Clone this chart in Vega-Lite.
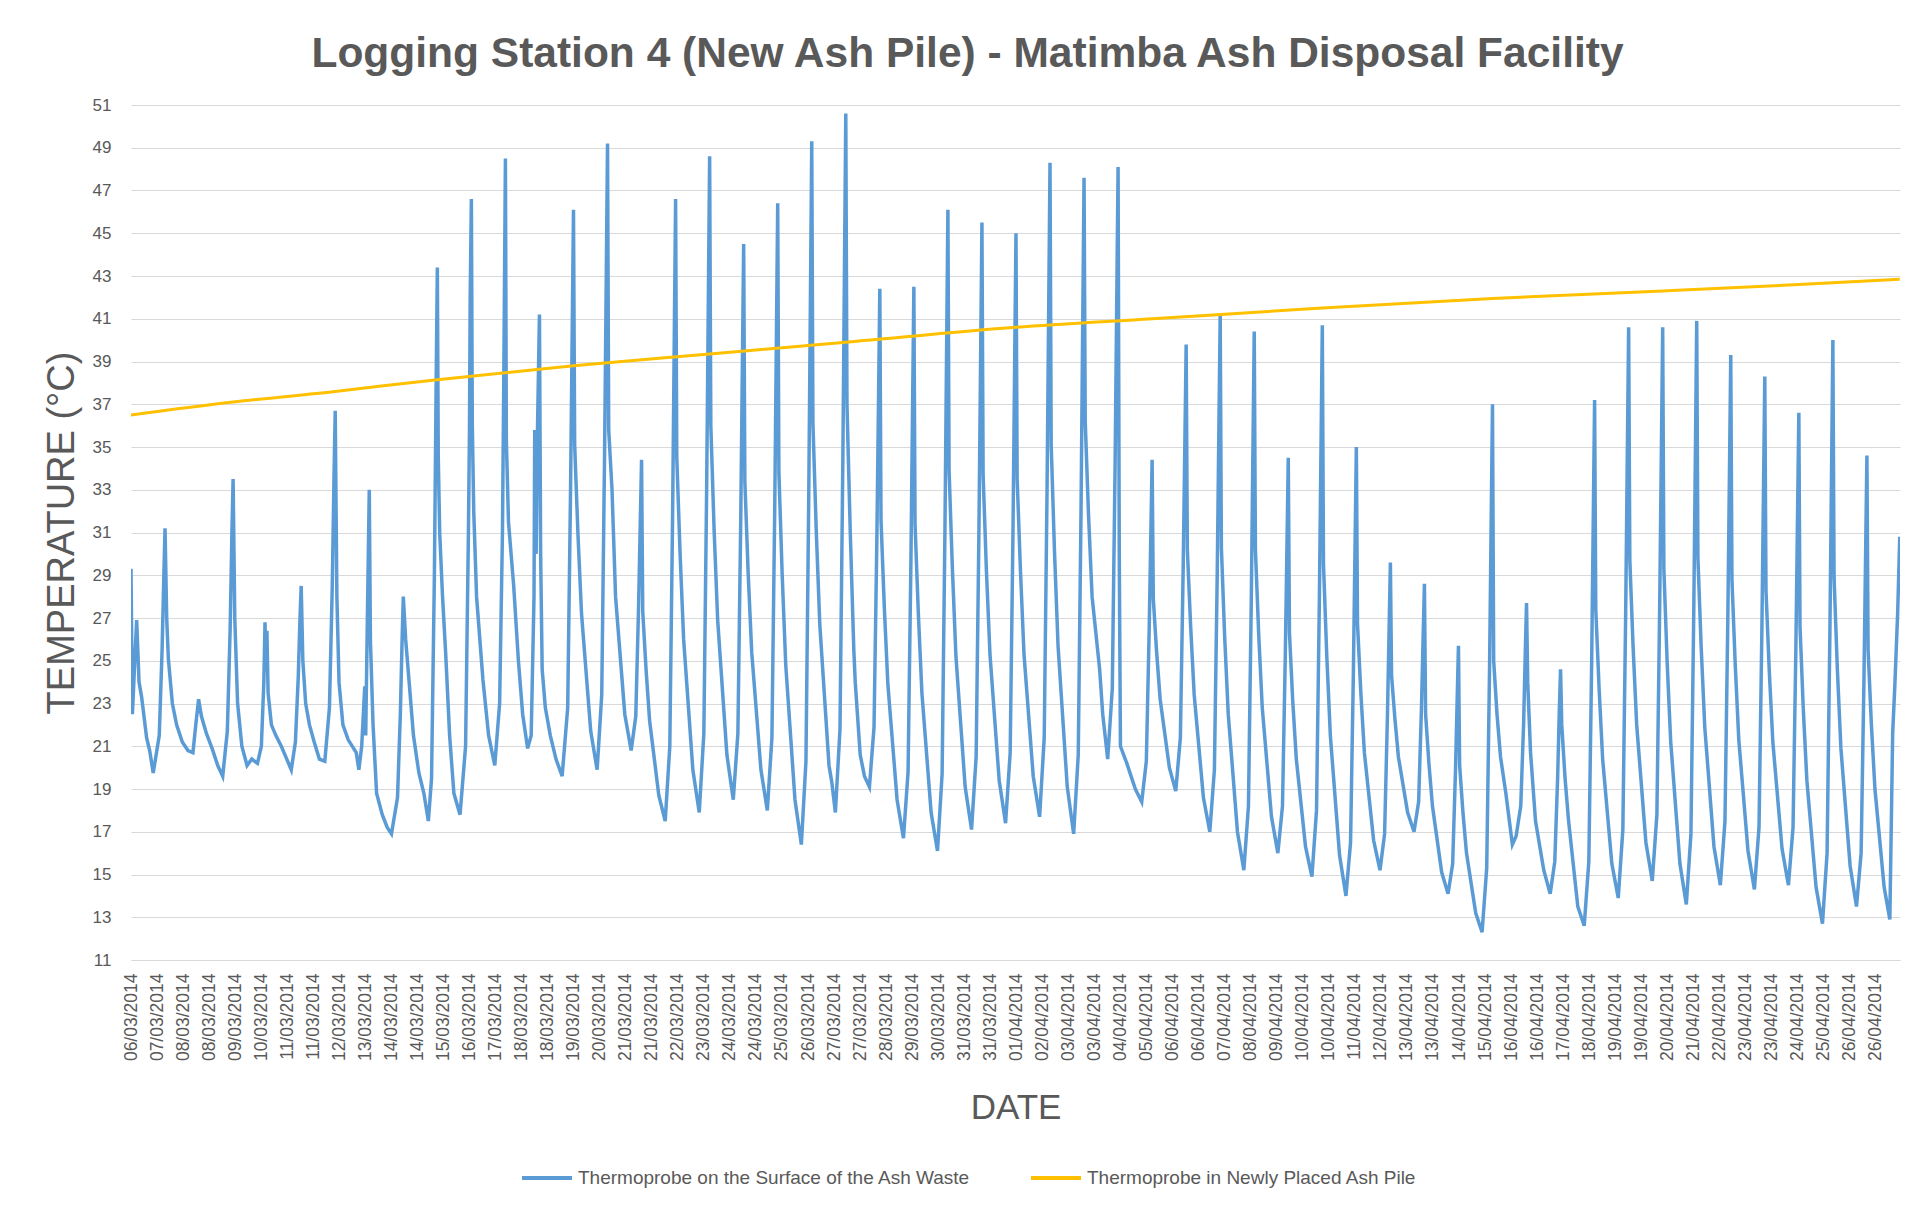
{
"$schema":"https://vega.github.io/schema/vega-lite/v6.json",
"width":1769,"height":855,
"autosize":{"type":"none"},
"padding":{"left":131,"top":105,"right":26,"bottom":245},
"background":"white",
"config":{"font":"Liberation Sans","view":{"stroke":null}},
"title":{"text":"Logging Station 4 (New Ash Pile) - Matimba Ash Disposal Facility","fontSize":42.5,"fontWeight":"bold","color":"#595959","anchor":"middle","frame":"group","dx":-48,"offset":40,"dy":53,"baseline":"alphabetic"},
"datasets":{
"surface":[
{"t":"2014-03-06T13:50","v":29.3},{"t":"2014-03-06T14:50","v":22.5},{"t":"2014-03-06T16:30","v":25.0},{"t":"2014-03-06T17:50","v":26.9},{"t":"2014-03-06T19:30","v":24.0},{"t":"2014-03-06T21:20","v":23.3},{"t":"2014-03-07T00:50","v":21.4},{"t":"2014-03-07T03:00","v":20.8},{"t":"2014-03-07T05:30","v":19.75},
{"t":"2014-03-07T09:45","v":21.5},{"t":"2014-03-07T11:45","v":25.5},{"t":"2014-03-07T13:00","v":29.0},{"t":"2014-03-07T13:50","v":31.2},{"t":"2014-03-07T15:00","v":27.0},{"t":"2014-03-07T16:10","v":25.1},{"t":"2014-03-07T19:00","v":23.0},{"t":"2014-03-07T22:00","v":22.0},{"t":"2014-03-08T02:00","v":21.2},{"t":"2014-03-08T06:00","v":20.8},
{"t":"2014-03-08T09:30","v":20.7},{"t":"2014-03-08T11:30","v":22.0},{"t":"2014-03-08T13:30","v":23.2},{"t":"2014-03-08T15:30","v":22.4},{"t":"2014-03-08T19:00","v":21.6},{"t":"2014-03-08T23:00","v":20.9},{"t":"2014-03-09T03:00","v":20.1},{"t":"2014-03-09T06:30","v":19.6},
{"t":"2014-03-09T09:45","v":21.7},{"t":"2014-03-09T11:45","v":26.5},{"t":"2014-03-09T13:00","v":31.0},{"t":"2014-03-09T13:50","v":33.5},{"t":"2014-03-09T15:00","v":27.0},{"t":"2014-03-09T17:00","v":23.0},{"t":"2014-03-09T20:00","v":21.0},{"t":"2014-03-09T23:40","v":20.1},{"t":"2014-03-10T03:00","v":20.4},{"t":"2014-03-10T07:00","v":20.2},
{"t":"2014-03-10T09:45","v":21.0},{"t":"2014-03-10T11:30","v":24.0},{"t":"2014-03-10T12:20","v":26.8},{"t":"2014-03-10T13:00","v":24.5},{"t":"2014-03-10T13:40","v":26.4},{"t":"2014-03-10T14:30","v":23.5},{"t":"2014-03-10T16:50","v":22.0},{"t":"2014-03-10T20:00","v":21.5},{"t":"2014-03-10T23:50","v":21.0},{"t":"2014-03-11T03:00","v":20.5},{"t":"2014-03-11T06:50","v":19.9},
{"t":"2014-03-11T09:45","v":21.2},{"t":"2014-03-11T11:45","v":24.2},{"t":"2014-03-11T13:00","v":27.0},{"t":"2014-03-11T13:50","v":28.5},{"t":"2014-03-11T15:00","v":25.0},{"t":"2014-03-11T17:00","v":23.0},{"t":"2014-03-11T19:40","v":22.0},{"t":"2014-03-11T23:00","v":21.2},{"t":"2014-03-12T02:40","v":20.4},{"t":"2014-03-12T06:30","v":20.3},
{"t":"2014-03-12T09:45","v":22.8},{"t":"2014-03-12T11:45","v":28.5},{"t":"2014-03-12T13:00","v":33.7},{"t":"2014-03-12T13:50","v":36.7},{"t":"2014-03-12T15:00","v":28.0},{"t":"2014-03-12T16:30","v":24.0},{"t":"2014-03-12T19:15","v":22.0},{"t":"2014-03-12T23:00","v":21.3},{"t":"2014-03-13T04:40","v":20.7},{"t":"2014-03-13T06:30","v":19.9},
{"t":"2014-03-13T08:30","v":21.0},{"t":"2014-03-13T10:40","v":23.8},{"t":"2014-03-13T11:20","v":21.5},{"t":"2014-03-13T12:30","v":27.0},{"t":"2014-03-13T13:50","v":33.0},{"t":"2014-03-13T14:40","v":25.9},{"t":"2014-03-13T16:30","v":22.0},{"t":"2014-03-13T19:00","v":18.8},{"t":"2014-03-13T23:00","v":17.8},{"t":"2014-03-14T02:30","v":17.2},{"t":"2014-03-14T05:30","v":16.9},
{"t":"2014-03-14T09:45","v":18.6},{"t":"2014-03-14T11:45","v":22.5},{"t":"2014-03-14T13:00","v":26.0},{"t":"2014-03-14T13:50","v":28.0},{"t":"2014-03-14T15:30","v":26.0},{"t":"2014-03-14T17:50","v":24.1},{"t":"2014-03-14T21:00","v":21.5},{"t":"2014-03-15T00:50","v":19.75},{"t":"2014-03-15T04:20","v":18.8},{"t":"2014-03-15T07:30","v":17.5},
{"t":"2014-03-15T09:45","v":19.5},{"t":"2014-03-15T11:45","v":29.0},{"t":"2014-03-15T13:00","v":38.0},{"t":"2014-03-15T13:50","v":43.4},{"t":"2014-03-15T14:30","v":34.5},{"t":"2014-03-15T15:30","v":31.0},{"t":"2014-03-15T17:30","v":28.0},{"t":"2014-03-15T19:40","v":25.4},{"t":"2014-03-15T22:30","v":21.5},{"t":"2014-03-16T01:30","v":18.8},{"t":"2014-03-16T05:50","v":17.8},
{"t":"2014-03-16T09:45","v":21.0},{"t":"2014-03-16T11:45","v":31.0},{"t":"2014-03-16T12:30","v":35.8},{"t":"2014-03-16T13:00","v":42.0},{"t":"2014-03-16T13:50","v":46.6},{"t":"2014-03-16T14:30","v":36.0},{"t":"2014-03-16T15:30","v":32.0},{"t":"2014-03-16T17:30","v":28.0},{"t":"2014-03-16T22:00","v":24.1},{"t":"2014-03-17T02:00","v":21.5},{"t":"2014-03-17T06:20","v":20.1},
{"t":"2014-03-17T09:45","v":23.0},{"t":"2014-03-17T11:45","v":31.0},{"t":"2014-03-17T12:40","v":38.0},{"t":"2014-03-17T13:50","v":48.5},{"t":"2014-03-17T14:30","v":35.3},{"t":"2014-03-17T16:00","v":31.5},{"t":"2014-03-17T19:40","v":28.5},{"t":"2014-03-17T23:00","v":25.0},{"t":"2014-03-18T02:00","v":22.5},{"t":"2014-03-18T05:30","v":20.9},
{"t":"2014-03-18T08:00","v":21.5},{"t":"2014-03-18T10:00","v":28.0},{"t":"2014-03-18T10:30","v":35.8},{"t":"2014-03-18T11:30","v":30.0},{"t":"2014-03-18T12:30","v":36.0},{"t":"2014-03-18T13:50","v":41.2},{"t":"2014-03-18T14:40","v":30.0},{"t":"2014-03-18T15:45","v":24.6},{"t":"2014-03-18T18:00","v":22.8},{"t":"2014-03-18T21:30","v":21.5},{"t":"2014-03-19T01:30","v":20.4},{"t":"2014-03-19T05:50","v":19.6},
{"t":"2014-03-19T09:45","v":22.8},{"t":"2014-03-19T11:45","v":32.9},{"t":"2014-03-19T13:00","v":40.8},{"t":"2014-03-19T13:50","v":46.1},{"t":"2014-03-19T14:40","v":35.1},{"t":"2014-03-19T17:00","v":30.9},{"t":"2014-03-19T19:30","v":27.2},{"t":"2014-03-20T02:00","v":21.7},{"t":"2014-03-20T06:30","v":19.9},
{"t":"2014-03-20T09:45","v":23.4},{"t":"2014-03-20T11:45","v":34.6},{"t":"2014-03-20T13:00","v":43.3},{"t":"2014-03-20T13:50","v":49.2},{"t":"2014-03-20T14:40","v":35.8},{"t":"2014-03-20T17:00","v":33.0},{"t":"2014-03-20T19:30","v":28.0},{"t":"2014-03-21T02:00","v":22.5},{"t":"2014-03-21T06:30","v":20.8},
{"t":"2014-03-21T09:45","v":22.4},{"t":"2014-03-21T11:45","v":27.6},{"t":"2014-03-21T13:00","v":31.7},{"t":"2014-03-21T13:50","v":34.4},{"t":"2014-03-21T14:40","v":27.3},{"t":"2014-03-21T17:00","v":24.6},{"t":"2014-03-21T19:30","v":22.2},{"t":"2014-03-22T02:00","v":18.7},{"t":"2014-03-22T06:30","v":17.5},
{"t":"2014-03-22T09:45","v":21.0},{"t":"2014-03-22T11:45","v":32.0},{"t":"2014-03-22T13:00","v":40.8},{"t":"2014-03-22T13:50","v":46.6},{"t":"2014-03-22T14:40","v":34.5},{"t":"2014-03-22T17:00","v":30.0},{"t":"2014-03-22T19:30","v":26.0},{"t":"2014-03-23T02:00","v":19.9},{"t":"2014-03-23T06:30","v":17.9},
{"t":"2014-03-23T09:45","v":21.6},{"t":"2014-03-23T11:45","v":33.2},{"t":"2014-03-23T13:00","v":42.5},{"t":"2014-03-23T13:50","v":48.6},{"t":"2014-03-23T14:40","v":36.0},{"t":"2014-03-23T17:00","v":31.1},{"t":"2014-03-23T19:30","v":26.9},{"t":"2014-03-24T02:00","v":20.6},{"t":"2014-03-24T06:30","v":18.5},
{"t":"2014-03-24T09:45","v":21.6},{"t":"2014-03-24T11:45","v":31.5},{"t":"2014-03-24T13:00","v":39.3},{"t":"2014-03-24T13:50","v":44.5},{"t":"2014-03-24T14:40","v":33.4},{"t":"2014-03-24T17:00","v":29.1},{"t":"2014-03-24T19:30","v":25.4},{"t":"2014-03-25T02:00","v":19.9},{"t":"2014-03-25T06:30","v":18.0},
{"t":"2014-03-25T09:45","v":21.4},{"t":"2014-03-25T11:45","v":32.2},{"t":"2014-03-25T13:00","v":40.7},{"t":"2014-03-25T13:50","v":46.4},{"t":"2014-03-25T14:40","v":33.8},{"t":"2014-03-25T17:00","v":29.0},{"t":"2014-03-25T19:30","v":24.8},{"t":"2014-03-26T02:00","v":18.5},{"t":"2014-03-26T06:30","v":16.4},
{"t":"2014-03-26T09:45","v":20.3},{"t":"2014-03-26T11:45","v":32.9},{"t":"2014-03-26T13:00","v":42.7},{"t":"2014-03-26T13:50","v":49.3},{"t":"2014-03-26T14:40","v":36.1},{"t":"2014-03-26T17:00","v":31.1},{"t":"2014-03-26T19:30","v":26.7},{"t":"2014-03-27T02:00","v":20.1},{"t":"2014-03-27T04:00","v":19.3},{"t":"2014-03-27T06:30","v":17.9},
{"t":"2014-03-27T09:45","v":21.8},{"t":"2014-03-27T11:45","v":34.3},{"t":"2014-03-27T13:00","v":44.1},{"t":"2014-03-27T13:50","v":50.6},{"t":"2014-03-27T14:40","v":37.0},{"t":"2014-03-27T17:00","v":31.0},{"t":"2014-03-27T19:30","v":25.5},{"t":"2014-03-27T20:30","v":24.0},{"t":"2014-03-28T00:00","v":20.6},{"t":"2014-03-28T03:00","v":19.6},{"t":"2014-03-28T06:30","v":19.1},
{"t":"2014-03-28T09:45","v":21.9},{"t":"2014-03-28T11:45","v":30.7},{"t":"2014-03-28T13:00","v":37.7},{"t":"2014-03-28T13:50","v":42.4},{"t":"2014-03-28T14:40","v":31.6},{"t":"2014-03-28T17:00","v":27.5},{"t":"2014-03-28T19:30","v":23.9},{"t":"2014-03-29T02:00","v":18.5},{"t":"2014-03-29T06:30","v":16.7},
{"t":"2014-03-29T09:45","v":19.8},{"t":"2014-03-29T11:45","v":29.6},{"t":"2014-03-29T13:00","v":37.3},{"t":"2014-03-29T13:50","v":42.5},{"t":"2014-03-29T14:40","v":31.4},{"t":"2014-03-29T17:00","v":27.2},{"t":"2014-03-29T19:30","v":23.5},{"t":"2014-03-30T02:00","v":17.9},{"t":"2014-03-30T06:30","v":16.1},
{"t":"2014-03-30T09:45","v":19.7},{"t":"2014-03-30T11:45","v":31.1},{"t":"2014-03-30T13:00","v":40.1},{"t":"2014-03-30T13:50","v":46.1},{"t":"2014-03-30T14:40","v":33.9},{"t":"2014-03-30T17:00","v":29.3},{"t":"2014-03-30T19:30","v":25.2},{"t":"2014-03-31T02:00","v":19.1},{"t":"2014-03-31T06:30","v":17.1},
{"t":"2014-03-31T09:45","v":20.5},{"t":"2014-03-31T11:45","v":31.3},{"t":"2014-03-31T13:00","v":39.8},{"t":"2014-03-31T13:50","v":45.5},{"t":"2014-03-31T14:40","v":33.7},{"t":"2014-03-31T17:00","v":29.2},{"t":"2014-03-31T19:30","v":25.3},{"t":"2014-04-01T02:00","v":19.4},{"t":"2014-04-01T06:30","v":17.4},
{"t":"2014-04-01T09:45","v":20.7},{"t":"2014-04-01T11:45","v":31.2},{"t":"2014-04-01T13:00","v":39.5},{"t":"2014-04-01T13:50","v":45.0},{"t":"2014-04-01T14:40","v":33.5},{"t":"2014-04-01T17:00","v":29.2},{"t":"2014-04-01T19:30","v":25.3},{"t":"2014-04-02T02:00","v":19.6},{"t":"2014-04-02T06:30","v":17.7},
{"t":"2014-04-02T09:45","v":21.4},{"t":"2014-04-02T11:45","v":33.0},{"t":"2014-04-02T13:00","v":42.2},{"t":"2014-04-02T13:50","v":48.3},{"t":"2014-04-02T14:40","v":35.1},{"t":"2014-04-02T17:00","v":30.1},{"t":"2014-04-02T19:30","v":25.7},{"t":"2014-04-03T02:00","v":19.1},{"t":"2014-04-03T06:30","v":16.9},
{"t":"2014-04-03T09:45","v":20.6},{"t":"2014-04-03T11:45","v":32.3},{"t":"2014-04-03T13:00","v":41.5},{"t":"2014-04-03T13:50","v":47.6},{"t":"2014-04-03T14:40","v":36.2},{"t":"2014-04-03T17:00","v":31.8},{"t":"2014-04-03T19:30","v":28.0},{"t":"2014-04-04T00:50","v":24.6},{"t":"2014-04-04T03:00","v":22.5},{"t":"2014-04-04T06:30","v":20.4},
{"t":"2014-04-04T09:45","v":23.7},{"t":"2014-04-04T11:45","v":34.3},{"t":"2014-04-04T13:00","v":42.6},{"t":"2014-04-04T13:50","v":48.1},{"t":"2014-04-04T14:40","v":30.0},{"t":"2014-04-04T15:30","v":21.0},{"t":"2014-04-04T20:00","v":20.2},{"t":"2014-04-05T02:00","v":19.0},{"t":"2014-04-05T06:30","v":18.4},
{"t":"2014-04-05T09:45","v":20.3},{"t":"2014-04-05T11:45","v":26.4},{"t":"2014-04-05T13:00","v":31.2},{"t":"2014-04-05T13:50","v":34.4},{"t":"2014-04-05T14:40","v":27.9},{"t":"2014-04-05T17:00","v":25.4},{"t":"2014-04-05T19:30","v":23.2},{"t":"2014-04-06T02:00","v":20.0},{"t":"2014-04-06T06:30","v":18.9},
{"t":"2014-04-06T09:45","v":21.4},{"t":"2014-04-06T11:45","v":29.4},{"t":"2014-04-06T13:00","v":35.6},{"t":"2014-04-06T13:50","v":39.8},{"t":"2014-04-06T14:40","v":30.2},{"t":"2014-04-06T17:00","v":26.6},{"t":"2014-04-06T19:30","v":23.4},{"t":"2014-04-07T02:00","v":18.6},{"t":"2014-04-07T06:30","v":17.0},
{"t":"2014-04-07T09:45","v":19.9},{"t":"2014-04-07T11:45","v":29.1},{"t":"2014-04-07T13:00","v":36.4},{"t":"2014-04-07T13:50","v":41.2},{"t":"2014-04-07T14:40","v":30.3},{"t":"2014-04-07T17:00","v":26.1},{"t":"2014-04-07T19:30","v":22.5},{"t":"2014-04-08T02:00","v":17.0},{"t":"2014-04-08T06:30","v":15.2},
{"t":"2014-04-08T09:45","v":18.2},{"t":"2014-04-08T11:45","v":27.8},{"t":"2014-04-08T13:00","v":35.4},{"t":"2014-04-08T13:50","v":40.4},{"t":"2014-04-08T14:40","v":30.2},{"t":"2014-04-08T17:00","v":26.2},{"t":"2014-04-08T19:30","v":22.8},{"t":"2014-04-09T02:00","v":17.7},{"t":"2014-04-09T06:30","v":16.0},
{"t":"2014-04-09T09:45","v":18.2},{"t":"2014-04-09T11:45","v":25.3},{"t":"2014-04-09T13:00","v":30.8},{"t":"2014-04-09T13:50","v":34.5},{"t":"2014-04-09T14:40","v":26.3},{"t":"2014-04-09T17:00","v":23.1},{"t":"2014-04-09T19:30","v":20.4},{"t":"2014-04-10T02:00","v":16.3},{"t":"2014-04-10T06:30","v":14.9},
{"t":"2014-04-10T09:45","v":18.0},{"t":"2014-04-10T11:45","v":27.8},{"t":"2014-04-10T13:00","v":35.5},{"t":"2014-04-10T13:50","v":40.7},{"t":"2014-04-10T14:40","v":29.5},{"t":"2014-04-10T17:00","v":25.2},{"t":"2014-04-10T19:30","v":21.5},{"t":"2014-04-11T02:00","v":15.9},{"t":"2014-04-11T06:30","v":14.0},
{"t":"2014-04-11T09:45","v":16.5},{"t":"2014-04-11T11:45","v":24.5},{"t":"2014-04-11T13:00","v":30.8},{"t":"2014-04-11T13:50","v":35.0},{"t":"2014-04-11T14:40","v":26.7},{"t":"2014-04-11T17:00","v":23.5},{"t":"2014-04-11T19:30","v":20.7},{"t":"2014-04-12T02:00","v":16.6},{"t":"2014-04-12T06:30","v":15.2},
{"t":"2014-04-12T09:45","v":16.9},{"t":"2014-04-12T11:45","v":22.4},{"t":"2014-04-12T13:00","v":26.7},{"t":"2014-04-12T13:50","v":29.6},{"t":"2014-04-12T14:40","v":24.3},{"t":"2014-04-12T17:00","v":22.3},{"t":"2014-04-12T19:30","v":20.5},{"t":"2014-04-13T02:00","v":17.9},{"t":"2014-04-13T06:30","v":17.0},
{"t":"2014-04-13T09:45","v":18.4},{"t":"2014-04-13T11:45","v":22.8},{"t":"2014-04-13T13:00","v":26.3},{"t":"2014-04-13T13:50","v":28.6},{"t":"2014-04-13T14:40","v":22.5},{"t":"2014-04-13T17:00","v":20.2},{"t":"2014-04-13T19:30","v":18.2},{"t":"2014-04-14T02:00","v":15.1},{"t":"2014-04-14T06:30","v":14.1},
{"t":"2014-04-14T09:45","v":15.5},{"t":"2014-04-14T11:45","v":19.9},{"t":"2014-04-14T13:00","v":23.4},{"t":"2014-04-14T13:50","v":25.7},{"t":"2014-04-14T14:40","v":20.1},{"t":"2014-04-14T17:00","v":17.9},{"t":"2014-04-14T19:30","v":16.0},{"t":"2014-04-15T02:00","v":13.2},{"t":"2014-04-15T06:30","v":12.3},
{"t":"2014-04-15T09:45","v":15.3},{"t":"2014-04-15T11:45","v":24.6},{"t":"2014-04-15T13:00","v":32.1},{"t":"2014-04-15T13:50","v":37.0},{"t":"2014-04-15T14:40","v":25.0},{"t":"2014-04-15T17:00","v":22.5},{"t":"2014-04-15T19:30","v":20.5},{"t":"2014-04-15T23:15","v":18.8},{"t":"2014-04-16T03:50","v":16.4},{"t":"2014-04-16T06:30","v":16.8},
{"t":"2014-04-16T09:45","v":18.2},{"t":"2014-04-16T11:45","v":22.0},{"t":"2014-04-16T13:00","v":25.5},{"t":"2014-04-16T13:50","v":27.7},{"t":"2014-04-16T14:40","v":24.0},{"t":"2014-04-16T16:40","v":20.7},{"t":"2014-04-16T20:10","v":17.5},{"t":"2014-04-17T02:00","v":15.2},{"t":"2014-04-17T06:30","v":14.1},
{"t":"2014-04-17T09:45","v":15.6},{"t":"2014-04-17T11:45","v":19.5},{"t":"2014-04-17T13:00","v":22.8},{"t":"2014-04-17T13:50","v":24.6},{"t":"2014-04-17T14:40","v":22.0},{"t":"2014-04-17T17:00","v":19.5},{"t":"2014-04-17T19:30","v":17.5},{"t":"2014-04-18T02:00","v":13.5},{"t":"2014-04-18T06:30","v":12.6},
{"t":"2014-04-18T09:45","v":15.6},{"t":"2014-04-18T11:45","v":24.9},{"t":"2014-04-18T13:00","v":32.3},{"t":"2014-04-18T13:50","v":37.2},{"t":"2014-04-18T14:40","v":27.4},{"t":"2014-04-18T17:00","v":23.7},{"t":"2014-04-18T19:30","v":20.4},{"t":"2014-04-19T02:00","v":15.5},{"t":"2014-04-19T06:30","v":13.9},
{"t":"2014-04-19T09:45","v":17.1},{"t":"2014-04-19T11:45","v":27.3},{"t":"2014-04-19T13:00","v":35.3},{"t":"2014-04-19T13:50","v":40.6},{"t":"2014-04-19T14:40","v":29.7},{"t":"2014-04-19T17:00","v":25.6},{"t":"2014-04-19T19:30","v":22.0},{"t":"2014-04-20T02:00","v":16.5},{"t":"2014-04-20T06:30","v":14.7},
{"t":"2014-04-20T09:45","v":17.8},{"t":"2014-04-20T11:45","v":27.7},{"t":"2014-04-20T13:00","v":35.4},{"t":"2014-04-20T13:50","v":40.6},{"t":"2014-04-20T14:40","v":29.3},{"t":"2014-04-20T17:00","v":24.9},{"t":"2014-04-20T19:30","v":21.2},{"t":"2014-04-21T02:00","v":15.5},{"t":"2014-04-21T06:30","v":13.6},
{"t":"2014-04-21T09:45","v":16.9},{"t":"2014-04-21T11:45","v":27.3},{"t":"2014-04-21T13:00","v":35.4},{"t":"2014-04-21T13:50","v":40.9},{"t":"2014-04-21T14:40","v":29.8},{"t":"2014-04-21T17:00","v":25.6},{"t":"2014-04-21T19:30","v":21.9},{"t":"2014-04-22T02:00","v":16.3},{"t":"2014-04-22T06:30","v":14.5},
{"t":"2014-04-22T09:45","v":17.5},{"t":"2014-04-22T11:45","v":26.9},{"t":"2014-04-22T13:00","v":34.3},{"t":"2014-04-22T13:50","v":39.3},{"t":"2014-04-22T14:40","v":28.8},{"t":"2014-04-22T17:00","v":24.8},{"t":"2014-04-22T19:30","v":21.3},{"t":"2014-04-23T02:00","v":16.1},{"t":"2014-04-23T06:30","v":14.3},
{"t":"2014-04-23T09:45","v":17.2},{"t":"2014-04-23T11:45","v":26.3},{"t":"2014-04-23T13:00","v":33.5},{"t":"2014-04-23T13:50","v":38.3},{"t":"2014-04-23T14:40","v":28.3},{"t":"2014-04-23T17:00","v":24.5},{"t":"2014-04-23T19:30","v":21.2},{"t":"2014-04-24T02:00","v":16.2},{"t":"2014-04-24T06:30","v":14.5},
{"t":"2014-04-24T09:45","v":17.2},{"t":"2014-04-24T11:45","v":25.6},{"t":"2014-04-24T13:00","v":32.2},{"t":"2014-04-24T13:50","v":36.6},{"t":"2014-04-24T14:40","v":26.6},{"t":"2014-04-24T17:00","v":22.7},{"t":"2014-04-24T19:30","v":19.4},{"t":"2014-04-25T02:00","v":14.4},{"t":"2014-04-25T06:30","v":12.7},
{"t":"2014-04-25T09:45","v":16.0},{"t":"2014-04-25T11:45","v":26.4},{"t":"2014-04-25T13:00","v":34.5},{"t":"2014-04-25T13:50","v":40.0},{"t":"2014-04-25T14:40","v":28.9},{"t":"2014-04-25T17:00","v":24.6},{"t":"2014-04-25T19:30","v":20.9},{"t":"2014-04-26T02:00","v":15.4},{"t":"2014-04-26T06:30","v":13.5},
{"t":"2014-04-26T09:45","v":16.0},{"t":"2014-04-26T11:45","v":24.1},{"t":"2014-04-26T13:00","v":30.4},{"t":"2014-04-26T13:50","v":34.6},{"t":"2014-04-26T14:40","v":25.5},{"t":"2014-04-26T17:00","v":22.0},{"t":"2014-04-26T19:30","v":19.0},{"t":"2014-04-27T02:00","v":14.4},{"t":"2014-04-27T06:00","v":12.9},
{"t":"2014-04-27T08:00","v":21.6},{"t":"2014-04-27T09:30","v":23.8},{"t":"2014-04-27T11:30","v":27.2},{"t":"2014-04-27T13:00","v":30.8}
],
"pile":[
{"t":"2014-03-06T13:50","v":36.5},{"t":"2014-03-09T13:50","v":37.1},{"t":"2014-03-12T13:50","v":37.6},{"t":"2014-03-15T13:50","v":38.15},{"t":"2014-03-19T13:50","v":38.8},{"t":"2014-03-23T13:50","v":39.35},{"t":"2014-03-27T13:50","v":39.9},{"t":"2014-04-01T13:50","v":40.6},{"t":"2014-04-05T13:50","v":41.0},{"t":"2014-04-10T13:50","v":41.5},{"t":"2014-04-15T13:50","v":41.95},{"t":"2014-04-20T13:50","v":42.3},{"t":"2014-04-24T13:50","v":42.6},{"t":"2014-04-27T13:00","v":42.85}
]
},
"encoding":{
"x":{"field":"t","type":"temporal",
"scale":{"domain":[{"year":2014,"month":3,"date":6,"hours":13,"minutes":50},{"year":2014,"month":4,"date":27,"hours":13,"minutes":10}]},
"axis":{"title":"DATE","titleFontSize":35,"titleFontWeight":"normal","titleColor":"#595959","titlePadding":30,
"format":"%d/%m/%Y","labelAngle":270,"labelFontSize":17.5,"labelColor":"#595959","labelPadding":13,"labelOverlap":false,"labelFlush":false,"labelBound":false,
"ticks":false,"grid":false,"domainColor":"#d9d9d9","domainWidth":1,
"values":[
{"year":2014,"month":3,"date":6,"hours":13,"minutes":51},{"year":2014,"month":3,"date":7,"hours":8,"minutes":13},{"year":2014,"month":3,"date":8,"hours":2,"minutes":34},{"year":2014,"month":3,"date":8,"hours":20,"minutes":56},
{"year":2014,"month":3,"date":9,"hours":15,"minutes":17},{"year":2014,"month":3,"date":10,"hours":9,"minutes":39},{"year":2014,"month":3,"date":11,"hours":4,"minutes":1},{"year":2014,"month":3,"date":11,"hours":22,"minutes":22},
{"year":2014,"month":3,"date":12,"hours":16,"minutes":44},{"year":2014,"month":3,"date":13,"hours":11,"minutes":5},{"year":2014,"month":3,"date":14,"hours":5,"minutes":27},{"year":2014,"month":3,"date":14,"hours":23,"minutes":49},
{"year":2014,"month":3,"date":15,"hours":18,"minutes":10},{"year":2014,"month":3,"date":16,"hours":12,"minutes":32},{"year":2014,"month":3,"date":17,"hours":6,"minutes":53},{"year":2014,"month":3,"date":18,"hours":1,"minutes":15},
{"year":2014,"month":3,"date":18,"hours":19,"minutes":37},{"year":2014,"month":3,"date":19,"hours":13,"minutes":58},{"year":2014,"month":3,"date":20,"hours":8,"minutes":20},{"year":2014,"month":3,"date":21,"hours":2,"minutes":41},
{"year":2014,"month":3,"date":21,"hours":21,"minutes":3},{"year":2014,"month":3,"date":22,"hours":15,"minutes":25},{"year":2014,"month":3,"date":23,"hours":9,"minutes":46},{"year":2014,"month":3,"date":24,"hours":4,"minutes":8},
{"year":2014,"month":3,"date":24,"hours":22,"minutes":29},{"year":2014,"month":3,"date":25,"hours":16,"minutes":51},{"year":2014,"month":3,"date":26,"hours":11,"minutes":13},{"year":2014,"month":3,"date":27,"hours":5,"minutes":34},
{"year":2014,"month":3,"date":27,"hours":23,"minutes":56},{"year":2014,"month":3,"date":28,"hours":18,"minutes":17},{"year":2014,"month":3,"date":29,"hours":12,"minutes":39},{"year":2014,"month":3,"date":30,"hours":7,"minutes":1},
{"year":2014,"month":3,"date":31,"hours":1,"minutes":22},{"year":2014,"month":3,"date":31,"hours":19,"minutes":44},{"year":2014,"month":4,"date":1,"hours":14,"minutes":5},{"year":2014,"month":4,"date":2,"hours":8,"minutes":27},
{"year":2014,"month":4,"date":3,"hours":2,"minutes":49},{"year":2014,"month":4,"date":3,"hours":21,"minutes":10},{"year":2014,"month":4,"date":4,"hours":15,"minutes":32},{"year":2014,"month":4,"date":5,"hours":9,"minutes":53},
{"year":2014,"month":4,"date":6,"hours":4,"minutes":15},{"year":2014,"month":4,"date":6,"hours":22,"minutes":37},{"year":2014,"month":4,"date":7,"hours":16,"minutes":58},{"year":2014,"month":4,"date":8,"hours":11,"minutes":20},
{"year":2014,"month":4,"date":9,"hours":5,"minutes":41},{"year":2014,"month":4,"date":10,"hours":0,"minutes":3},{"year":2014,"month":4,"date":10,"hours":18,"minutes":25},{"year":2014,"month":4,"date":11,"hours":12,"minutes":46},
{"year":2014,"month":4,"date":12,"hours":7,"minutes":8},{"year":2014,"month":4,"date":13,"hours":1,"minutes":29},{"year":2014,"month":4,"date":13,"hours":19,"minutes":51},{"year":2014,"month":4,"date":14,"hours":14,"minutes":13},
{"year":2014,"month":4,"date":15,"hours":8,"minutes":34},{"year":2014,"month":4,"date":16,"hours":2,"minutes":56},{"year":2014,"month":4,"date":16,"hours":21,"minutes":17},{"year":2014,"month":4,"date":17,"hours":15,"minutes":39},
{"year":2014,"month":4,"date":18,"hours":10,"minutes":1},{"year":2014,"month":4,"date":19,"hours":4,"minutes":22},{"year":2014,"month":4,"date":19,"hours":22,"minutes":44},{"year":2014,"month":4,"date":20,"hours":17,"minutes":5},
{"year":2014,"month":4,"date":21,"hours":11,"minutes":27},{"year":2014,"month":4,"date":22,"hours":5,"minutes":49},{"year":2014,"month":4,"date":23,"hours":0,"minutes":10},{"year":2014,"month":4,"date":23,"hours":18,"minutes":32},
{"year":2014,"month":4,"date":24,"hours":12,"minutes":53},{"year":2014,"month":4,"date":25,"hours":7,"minutes":15},{"year":2014,"month":4,"date":26,"hours":1,"minutes":37},{"year":2014,"month":4,"date":26,"hours":19,"minutes":58}
]}},
"y":{"field":"v","type":"quantitative","scale":{"domain":[11,51],"nice":false,"zero":false},
"axis":{"title":"TEMPERATURE (°C)","titleFontSize":38,"titleFontWeight":"normal","titleColor":"#595959","titlePadding":11,
"values":[11,13,15,17,19,21,23,25,27,29,31,33,35,37,39,41,43,45,47,49,51],
"labelFontSize":17,"labelColor":"#595959","labelPadding":20,"ticks":false,"domain":false,"gridColor":"#d9d9d9","gridWidth":1}}
},
"layer":[
{"data":{"name":"surface"},"mark":{"type":"line","strokeWidth":3.5,"clip":true},
"encoding":{"color":{"datum":"Thermoprobe on the Surface of the Ash Waste",
"scale":{"domain":["Thermoprobe on the Surface of the Ash Waste","Thermoprobe in Newly Placed Ash Pile"],"range":["#5B9BD5","#FFC000"]},
"legend":{"orient":"none","legendX":389,"legendY":1046,"direction":"horizontal","title":null,"symbolType":"stroke","symbolStrokeWidth":4,"symbolSize":2500,"labelFontSize":19,"labelColor":"#595959","labelLimit":0,"columnPadding":52,"labelOffset":4,"padding":0}}}},
{"data":{"name":"pile"},"mark":{"type":"line","strokeWidth":3,"interpolate":"monotone","clip":true},
"encoding":{"color":{"datum":"Thermoprobe in Newly Placed Ash Pile"}}}
]
}
